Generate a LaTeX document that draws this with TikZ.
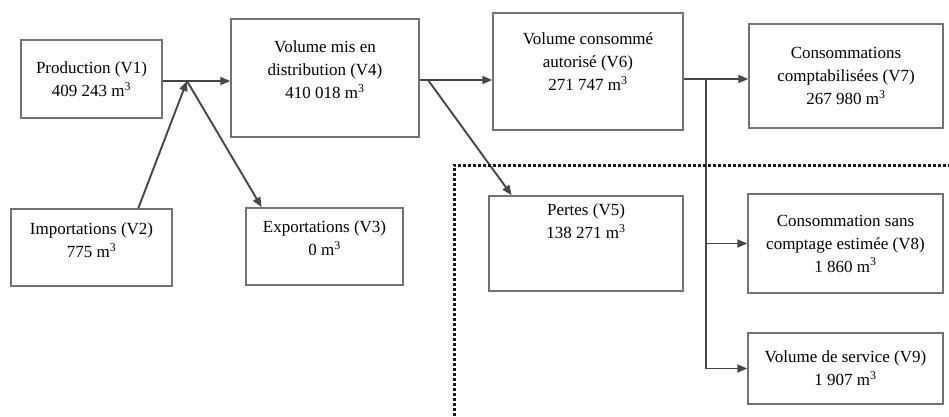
\documentclass[tikz,border=0pt]{standalone}
\usepackage{fontspec}
\setmainfont{Liberation Serif}
\usetikzlibrary{arrows.meta}

\begin{document}
\begin{tikzpicture}[
    x=1pt, y=1pt,
    volume/.style={rectangle, draw=black!55, fill=white, line width=1.5pt, inner sep=2pt, align=center, font=\fontsize{17}{23}\selectfont},
    flow/.style={-{Triangle[length=10pt, width=8pt]}, line width=1.9pt, draw=black!72},
    lossline/.style={line width=3pt, dash pattern=on 3pt off 2pt, draw=black!90}
]
    \useasboundingbox (0,0) rectangle (949,416);

    % --- Resource side ---
    \node[volume, minimum width=141, minimum height=78] (prod) at (91.5,337) {Production (V1)\\409 243 m\textsuperscript{3}};
    \node[volume, minimum width=161, minimum height=77] (imp) at (91.5,168.5) {Importations (V2)\\775 m\textsuperscript{3}\\[-8pt]};
    \node[volume, minimum width=157, minimum height=77] (exp) at (324.5,169.5) {Exportations (V3)\\0 m\textsuperscript{3}\\[-6pt]};
    \node[volume, minimum width=188, minimum height=118] (v4) at (325,338) {Volume mis en\\distribution (V4)\\410 018 m\textsuperscript{3}\\[-6pt]};

    % --- Use side ---
    \node[volume, minimum width=190, minimum height=117] (v6) at (588,344.5) {Volume consommé\\autorisé (V6)\\271 747 m\textsuperscript{3}\\[-3pt]};
    \node[volume, minimum width=194, minimum height=95] (v5) at (586,172.5) {Pertes (V5)\\138 271 m\textsuperscript{3}\\[22pt]};
    \node[volume, minimum width=194, minimum height=104] (v7) at (846,340) {Consommations\\comptabilisées (V7)\\267 980 m\textsuperscript{3}};
    \node[volume, minimum width=195, minimum height=99] (v8) at (845.5,172.5) {Consommation sans\\comptage estimée (V8)\\1 860 m\textsuperscript{3}};
    \node[volume, minimum width=195, minimum height=71] (v9) at (845.5,47.5) {Volume de service (V9)\\1 907 m\textsuperscript{3}};

    % --- Junctions ---
    \coordinate (j1) at (187,335);
    \coordinate (j2) at (428,336);
    \coordinate (j3) at (706,337);

    % Production + imports - exports
    \draw[flow] (prod.east |- j1) -- (v4.west |- j1);
    \draw[flow] (imp.40) -- (j1);
    \draw[flow] (j1) -- (exp.148);

    % Distribution split
    \draw[flow] (v4.east |- j2) -- (v6.west |- j2);
    \draw[flow] (j2) -- (v5.147);

    % Authorised consumption split
    \draw[flow] (v6.east |- j3) -- (v7.west |- j3);
    \draw[flow] (j3 |- v8.west) -- (v8.west);
    \draw[flow] (j3) |- (v9.west);

    % Losses boundary
    \draw[lossline] (454,0) |- (949,251);

\end{tikzpicture}
\end{document}
